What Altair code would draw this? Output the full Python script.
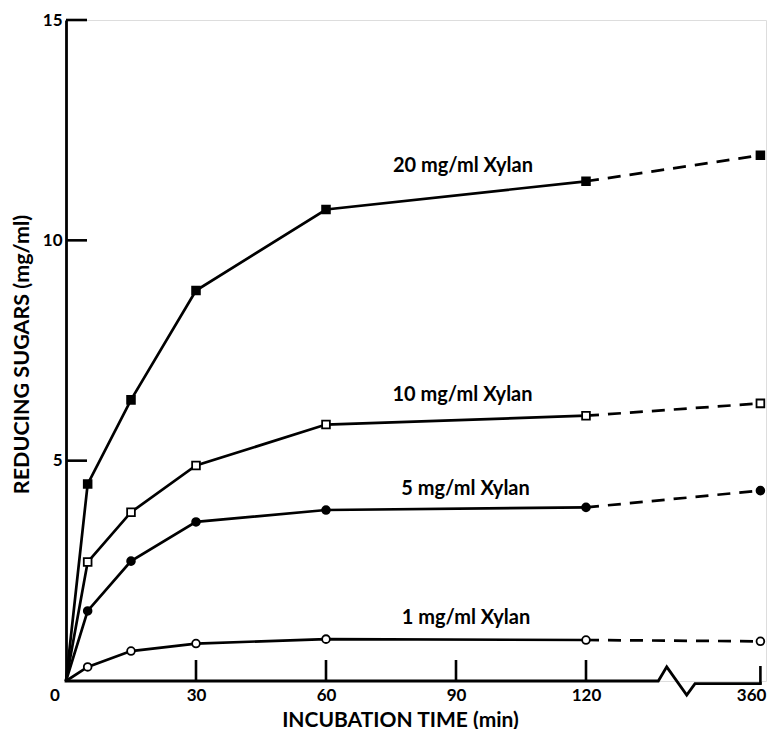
import altair as alt
import pandas as pd

# ---- data ----
times = [0, 5, 15, 30, 60, 120, 360]
series_names = ["20 mg/ml Xylan", "10 mg/ml Xylan", "5 mg/ml Xylan", "1 mg/ml Xylan"]
xylan_20 = [0, 4.47, 6.38, 8.86, 10.70, 11.34, 11.93]
xylan_10 = [0, 2.70, 3.83, 4.89, 5.82, 6.02, 6.30]
xylan_5 = [0, 1.59, 2.72, 3.61, 3.88, 3.94, 4.32]
xylan_1 = [0, 0.32, 0.68, 0.85, 0.95, 0.93, 0.90]
series_values = [xylan_20, xylan_10, xylan_5, xylan_1]

label_time = [91.6, 91.5, 92.2, 92.3]
label_sugar = [11.68, 6.49, 4.35, 1.43]

x_ticks = [30, 60, 90, 120]
x_tick_last = [360]
y_ticks = [5, 10, 15]

# x-axis line with the break zig-zag between 120 and 360
break_time = [0, 219.5, 231.1, 258.6, 270, 360]
break_level = [0, 0, 0.32, -0.32, -0.06, -0.06]

# ---- tables ----
solid_rows, dash_rows, point_rows = [], [], []
for name, vals in zip(series_names, series_values):
    for t, v in zip(times, vals):
        if t <= 120:
            solid_rows.append({"series": name, "t": t, "v": v})
        if t >= 120:
            dash_rows.append({"series": name, "t": t, "v": v})
        if t > 0:
            point_rows.append({"series": name, "t": t, "v": v})
solid_df = pd.DataFrame(solid_rows)
dash_df = pd.DataFrame(dash_rows)
point_df = pd.DataFrame(point_rows)
label_df = pd.DataFrame({"series": series_names, "t": label_time, "v": label_sugar})
xtick_df = pd.DataFrame({"t": x_ticks})
xlast_df = pd.DataFrame({"t": x_tick_last, "v": [-0.06], "s": [str(x) for x in x_tick_last]})
ytick_df = pd.DataFrame({"v": y_ticks})
axis_df = pd.DataFrame({"t": break_time, "v": break_level, "i": list(range(len(break_time)))})

FONT = "Lato"
xscale = alt.Scale(domain=[0, 120, 360], range=[0, 520, 694.4])
yscale = alt.Scale(domain=[0, 15], nice=False, zero=False)

x_axis = alt.Axis(
    values=x_ticks, domain=False, ticks=False, grid=False,
    labelFont=FONT, labelFontWeight="bold", labelFontSize=17, labelColor="black",
    labelPadding=6, labelFlush=False, labelOverlap=False, format="d",
    title="INCUBATION TIME (min)", titleFont=FONT, titleFontWeight="bold",
    titleFontSize=21, titleColor="black", titleX=334, titleY=39,
    titleAlign="center", titleBaseline="middle",
)
y_axis = alt.Axis(
    values=y_ticks, domain=True, domainColor="black", domainWidth=2.8,
    ticks=False, grid=False,
    labelFont=FONT, labelFontWeight="bold", labelFontSize=17, labelColor="black",
    labelPadding=4, labelFlush=False, labelOverlap=False,
    title="REDUCING SUGARS (mg/ml)", titleFont=FONT, titleFontWeight="bold",
    titleFontSize=21.5, titleColor="black", titleAngle=270, titleX=-44, titleY=334,
    titleAlign="center", titleBaseline="middle",
)

X = alt.X("t:Q", scale=xscale, axis=x_axis)
Y = alt.Y("v:Q", scale=yscale, axis=y_axis)

solid = alt.Chart(solid_df).mark_line(color="black", strokeWidth=2.7).encode(
    x=X, y=Y, detail="series:N", order="t:Q"
)
dashed = alt.Chart(dash_df).mark_line(color="black", strokeWidth=2.7, strokeDash=[13, 9]).encode(
    x=X, y=Y, detail="series:N", order="t:Q"
)
points = alt.Chart(point_df).mark_point(
    filled=True, stroke="black", strokeWidth=1.8, size=60, opacity=1
).encode(
    x=X, y=Y,
    shape=alt.Shape("series:N", scale=alt.Scale(domain=series_names,
                    range=["square", "square", "circle", "circle"]), legend=None),
    fill=alt.Fill("series:N", scale=alt.Scale(domain=series_names,
                  range=["black", "white", "black", "white"]), legend=None),
)
labels = alt.Chart(label_df).mark_text(
    font=FONT, fontWeight="bold", fontSize=20, color="black", align="center", baseline="middle"
).encode(x=X, y=Y, text="series:N")

x_axis_line = alt.Chart(axis_df).mark_line(color="black", strokeWidth=2.8, strokeCap="square").encode(
    x=X, y=Y, order="i:Q"
)
x_tick_marks = alt.Chart(xtick_df).mark_rule(color="black", strokeWidth=2.6).encode(
    x=X, y=alt.value(661), y2=alt.value(640)
)
x_last_tick = alt.Chart(xlast_df).mark_rule(color="black", strokeWidth=2.6).encode(
    x=X, y=Y, y2=alt.value(646)
)
x_last_label = alt.Chart(xlast_df).mark_text(
    font=FONT, fontWeight="bold", fontSize=17, color="black", align="right",
    baseline="middle", dx=6, dy=12
).encode(x=X, y=Y, text="s:N")
y_tick_marks = alt.Chart(ytick_df).mark_rule(color="black", strokeWidth=2.6).encode(
    y=Y, x=alt.value(0), x2=alt.value(21)
)
origin = alt.Chart(pd.DataFrame({"t": [0], "v": [0], "s": ["0"]})).mark_text(
    font=FONT, fontWeight="bold", fontSize=17, color="black", align="center",
    baseline="middle", dx=-11, dy=15
).encode(x=X, y=Y, text="s:N")

chart = alt.layer(
    x_axis_line, x_tick_marks, x_last_tick, y_tick_marks, solid, dashed, points,
    labels, origin, x_last_label
).properties(
    width=700, height=661,
    autosize=alt.AutoSizeParams(type="none"),
    padding={"left": 58, "top": 12, "right": 1, "bottom": 48},
).configure_view(stroke=None).configure(background="white")

chart.save("out.html", embed_options={"renderer": "svg", "actions": False})
